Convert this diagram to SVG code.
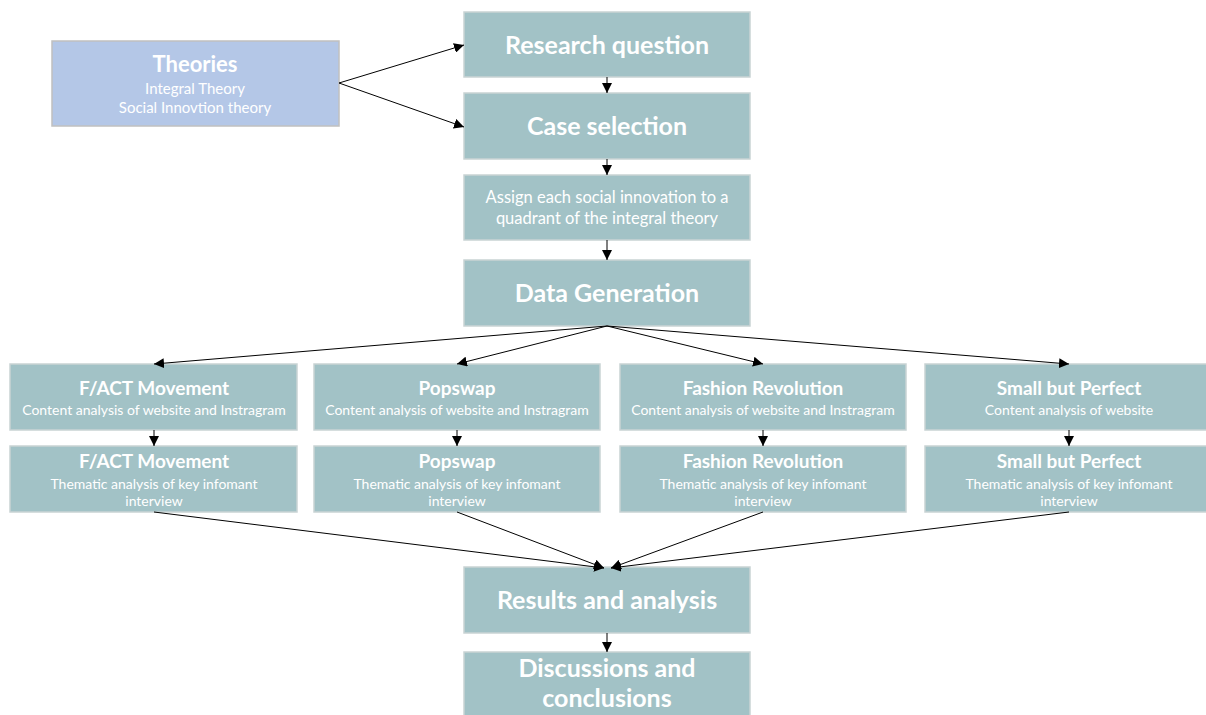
<svg xmlns="http://www.w3.org/2000/svg" width="1206" height="715" viewBox="0 0 1206 715">
<defs>
<marker id="ah" viewBox="0 0 10 10" refX="10" refY="5" markerWidth="10" markerHeight="10" markerUnits="userSpaceOnUse" orient="auto">
<path d="M0,0 L10,5 L0,10 z" fill="#000"/>
</marker>
<style>
.box{fill:#a2c2c6;stroke:#c9d3d4;stroke-width:1.5}
.blue{fill:#b4c7e7;stroke:#c0c0c0;stroke-width:1.5}
text{font-family:Lato,"Open Sans",sans-serif;fill:#fff;text-anchor:middle}
.big{font-size:25px;font-weight:bold}
.mid{font-size:19px;font-weight:bold}
.sub{font-size:14px}
.sub2{font-size:16.5px}
.conn line{stroke:#000;stroke-width:1;marker-end:url(#ah)}
</style>
</defs>
<rect width="1206" height="715" fill="#fff"/>
<g id="theories">
<rect class="blue" x="52" y="41" width="287" height="85"/>
<text class="mid" x="195" y="72" style="font-size:22px">Theories</text>
<text class="sub" x="195" y="94" style="font-size:15px">Integral Theory</text>
<text class="sub" x="195" y="113" style="font-size:15px">Social Innovtion theory</text>
</g>
<g id="research">
<rect class="box" x="464" y="12" width="286" height="65"/>
<text class="big" x="607" y="54">Research question</text>
</g>
<g id="case">
<rect class="box" x="464" y="93" width="286" height="66"/>
<text class="big" x="607" y="135">Case selection</text>
</g>
<g id="assign">
<rect class="box" x="464" y="175" width="286" height="65"/>
<text class="sub2" x="607" y="203">Assign each social innovation to a</text>
<text class="sub2" x="607" y="224">quadrant of the integral theory</text>
</g>
<g id="datagen">
<rect class="box" x="464" y="260" width="286" height="66"/>
<text class="big" x="607" y="302">Data Generation</text>
</g>
<g id="fact1">
<rect class="box" x="10" y="364" width="287" height="66"/>
<text class="mid" x="154" y="395">F/ACT Movement</text>
<text class="sub" x="154" y="415">Content analysis of website and Instragram</text>
</g>
<g id="pop1">
<rect class="box" x="314" y="364" width="286" height="66"/>
<text class="mid" x="457" y="395">Popswap</text>
<text class="sub" x="457" y="415">Content analysis of website and Instragram</text>
</g>
<g id="fr1">
<rect class="box" x="620" y="364" width="286" height="66"/>
<text class="mid" x="763" y="395">Fashion Revolution</text>
<text class="sub" x="763" y="415">Content analysis of website and Instragram</text>
</g>
<g id="sbp1">
<rect class="box" x="925" y="364" width="290" height="66"/>
<text class="mid" x="1069" y="395">Small but Perfect</text>
<text class="sub" x="1069" y="415">Content analysis of website</text>
</g>
<g id="fact2">
<rect class="box" x="10" y="446" width="287" height="66"/>
<text class="mid" x="154" y="468">F/ACT Movement</text>
<text class="sub" x="154" y="489">Thematic analysis of key infomant</text>
<text class="sub" x="154" y="506">interview</text>
</g>
<g id="pop2">
<rect class="box" x="314" y="446" width="286" height="66"/>
<text class="mid" x="457" y="468">Popswap</text>
<text class="sub" x="457" y="489">Thematic analysis of key infomant</text>
<text class="sub" x="457" y="506">interview</text>
</g>
<g id="fr2">
<rect class="box" x="620" y="446" width="286" height="66"/>
<text class="mid" x="763" y="468">Fashion Revolution</text>
<text class="sub" x="763" y="489">Thematic analysis of key infomant</text>
<text class="sub" x="763" y="506">interview</text>
</g>
<g id="sbp2">
<rect class="box" x="925" y="446" width="290" height="66"/>
<text class="mid" x="1069" y="468">Small but Perfect</text>
<text class="sub" x="1069" y="489">Thematic analysis of key infomant</text>
<text class="sub" x="1069" y="506">interview</text>
</g>
<g id="results">
<rect class="box" x="464" y="567" width="286" height="66"/>
<text class="big" x="607" y="609">Results and analysis</text>
</g>
<g id="discussions">
<rect class="box" x="464" y="652" width="286" height="70"/>
<text class="big" x="607" y="677">Discussions and</text>
<text class="big" x="607" y="707">conclusions</text>
</g>
<g id="connectors" class="conn">
<line x1="339" y1="83" x2="464" y2="45"/>
<line x1="339" y1="83" x2="464" y2="127"/>
<line x1="607" y1="77" x2="607" y2="93"/>
<line x1="607" y1="159" x2="607" y2="175"/>
<line x1="607" y1="240" x2="607" y2="260"/>
<line x1="607" y1="326" x2="154" y2="364"/>
<line x1="607" y1="326" x2="457" y2="364"/>
<line x1="607" y1="326" x2="763" y2="364"/>
<line x1="607" y1="326" x2="1069" y2="364"/>
<line x1="154" y1="430" x2="154" y2="446"/>
<line x1="457" y1="430" x2="457" y2="446"/>
<line x1="763" y1="430" x2="763" y2="446"/>
<line x1="1069" y1="430" x2="1069" y2="446"/>
<line x1="154" y1="512" x2="604" y2="568"/>
<line x1="457" y1="512" x2="604" y2="568"/>
<line x1="763" y1="512" x2="611" y2="568"/>
<line x1="1069" y1="512" x2="611" y2="568"/>
<line x1="607" y1="633" x2="607" y2="652"/>
</g>
</svg>
